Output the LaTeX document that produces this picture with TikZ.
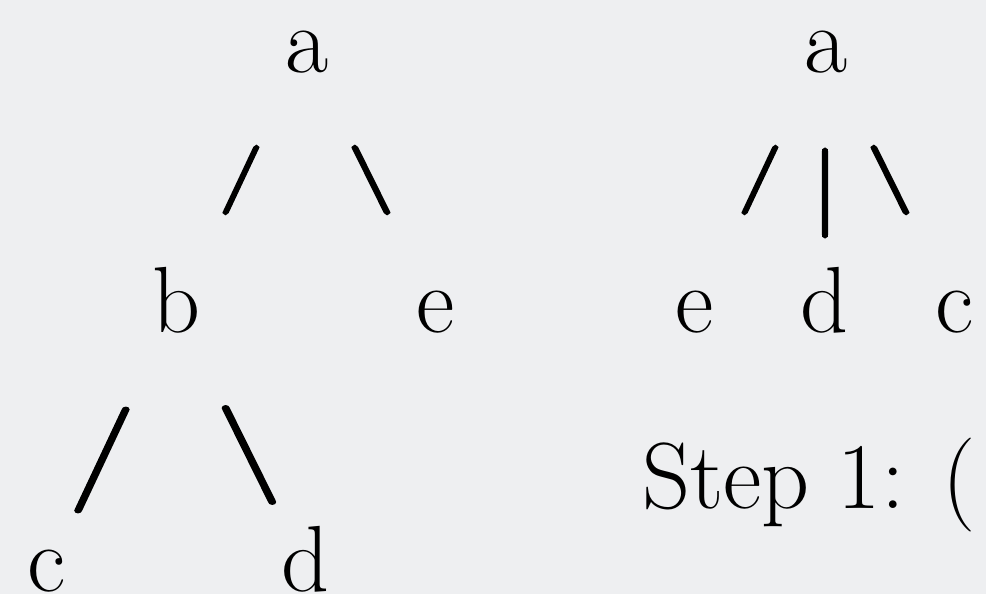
\documentclass[tikz,border=0pt]{standalone}
\usepackage{graphicx}
\usepackage{fontspec}
\setmainfont{Latin Modern Roman}
\newfontfamily\edgefontA[FakeBold=3]{Latin Modern Roman}
\newfontfamily\edgefontB[FakeBold=1.8]{Latin Modern Roman}
\newfontfamily\edgefontC[FakeBold=3]{Latin Modern Roman}
\newcommand\wideglyph[1]{\scalebox{1.37}[1]{#1}}
\definecolor{bgc}{RGB}{238,239,241}
\begin{document}
\begin{tikzpicture}[x=1bp,y=-1bp,
  lab/.style={inner sep=0pt, outer sep=0pt, anchor=base, font=\fontsize{94bp}{100bp}\selectfont},
  edg/.style={inner sep=0pt, outer sep=0pt, anchor=center, font=\fontsize{68bp}{70bp}\edgefontA},
  baredg/.style={inner sep=0pt, outer sep=0pt, anchor=center, font=\fontsize{88bp}{90bp}\edgefontC},
  bigedg/.style={inner sep=0pt, outer sep=0pt, anchor=center, font=\fontsize{105bp}{110bp}\edgefontB},
  bigedgb/.style={inner sep=0pt, outer sep=0pt, anchor=center, font=\fontsize{98bp}{100bp}\edgefontB}]
\fill[bgc] (0,0) rectangle (986,594);
\useasboundingbox (0,0) rectangle (986,594);
% left tree
\node[lab] (la) at (307,73) {a};
\node[edg] (lsl) at (241,180) {\wideglyph{/}};
\node[edg] (lbs) at (371,180) {\wideglyph{\textbackslash}};
\node[lab] (lb) at (177,332) {b};
\node[lab] (le) at (436,332) {e};
\node[bigedg] (lsl2) at (102,460) {\wideglyph{/}};
\node[bigedgb] (lbs2) at (249,455) {\wideglyph{\textbackslash}};
\node[lab] (lc) at (47,591) {c};
\node[lab] (ld) at (306,591) {d};
% right tree
\node[lab] (ra) at (826,73) {a};
\node[edg] (rsl) at (760,180) {\wideglyph{/}};
\node[baredg] (rbar) at (825,193) {|};
\node[edg] (rbs) at (890,180) {\wideglyph{\textbackslash}};
\node[lab] (re) at (695,332) {e};
\node[lab] (rd) at (825,332) {d};
\node[lab] (rc) at (955,332) {c};
\node[lab, anchor=base west] (step) at (642,508) {Step 1: (};
\end{tikzpicture}
\end{document}
